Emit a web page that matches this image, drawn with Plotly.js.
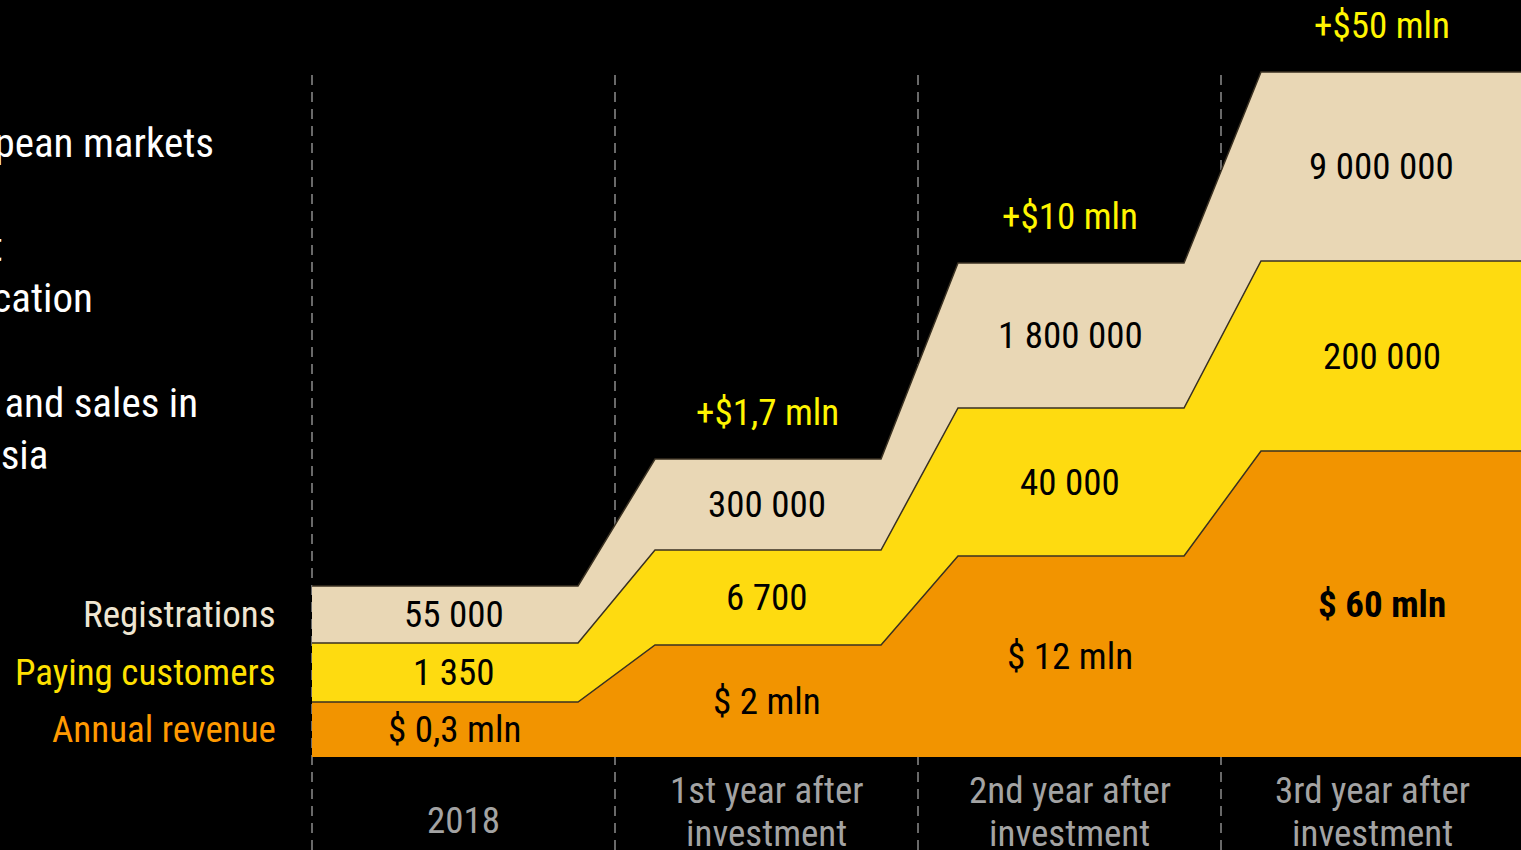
<!DOCTYPE html>
<html>
<head>
<meta charset="utf-8">
<script src="https://cdn.plot.ly/plotly-3.0.1.min.js"></script>
<style>
  html, body { margin: 0; padding: 0; background: #000; }
  #chart { width: 1521px; height: 850px; }
</style>
</head>
<body>
<div id="chart"></div>
<script>
// ---- data ----
const categories = ["2018", "1st year after<br>investment", "2nd year after<br>investment", "3rd year after<br>investment"];
const seriesNames = ["Annual revenue", "Paying customers", "Registrations"];
// visual band thickness of each layer per period
const revenueBand = [55, 112, 201, 306];
const payingBand = [59, 95, 148, 190];
const registrationsBand = [57, 91, 145, 189];
// value labels
const revenueLabels = ["$ 0,3 mln", "$ 2 mln", "$ 12 mln", "<b>$ 60 mln</b>"];
const payingLabels = ["1 350", "6 700", "40 000", "200 000"];
const registrationsLabels = ["55 000", "300 000", "1 800 000", "9 000 000"];
const growthLabels = ["", "+$1,7 mln", "+$10 mln", "+$50 mln"];
const sideNotes = ["European markets", "Launch of the product", "Product certification", "Marketing and sales in", "Asia"];

// ---- layout constants ----
const FONT = "'Roboto Condensed', 'Liberation Sans Narrow', 'Arial Narrow', Roboto, sans-serif";
const FS = 37;
const flatStart = k => (k === 0 ? 0 : k + 0.132);
const flatEnd = k => (k === categories.length - 1 ? 4 : k + 0.878);

const xs = [];
categories.forEach((c, k) => { xs.push(flatStart(k), flatEnd(k)); });
const expand = arr => { const o = []; arr.forEach(v => { o.push(v, v); }); return o; };

const colors = ["#F29400", "#FEDB10", "#E9D7B5"];
const bands = [revenueBand, payingBand, registrationsBand];

const traces = bands.map((b, i) => ({
  x: xs,
  y: expand(b),
  type: "scatter",
  mode: "lines",
  stackgroup: "s",
  name: seriesNames[i],
  line: { color: "#3a3122", width: 1.5, shape: "linear" },
  fillcolor: colors[i],
  hoverinfo: "skip"
}));

const annotations = [];
const shapes = [];

categories.forEach((c, k) => {
  const flatMid = (flatStart(k) + Math.min(flatEnd(k), 3.99)) / 2;
  const cx = (flatMid + (k + 0.5)) / 2;
  let base = 0;
  const lbls = [revenueLabels, payingLabels, registrationsLabels];
  bands.forEach((b, i) => {
    annotations.push({
      x: cx, y: base + b[k] / 2, xref: "x", yref: "y",
      text: lbls[i][k], showarrow: false,
      font: { family: FONT, size: FS, color: "#000" },
      xanchor: "center", yanchor: "middle"
    });
    base += b[k];
  });
  if (growthLabels[k]) {
    annotations.push({
      x: cx, y: base + 47, xref: "x", yref: "y",
      text: growthLabels[k], showarrow: false,
      font: { family: FONT, size: FS, color: "#FFF500" },
      xanchor: "center", yanchor: "middle"
    });
  }
  // category label (one annotation per line for tight line spacing)
  const lines = c.split("<br>");
  lines.forEach((ln, j) => {
    annotations.push({
      x: k + 0.5, y: lines.length > 1 ? -33 - 43 * j : -63, xref: "x", yref: "y",
      text: ln, showarrow: false,
      font: { family: FONT, size: FS, color: "#A3A3A3" },
      xanchor: "center", yanchor: "middle"
    });
  });
  // dashed divider
  shapes.push({
    type: "line", xref: "x", yref: "y", x0: k, x1: k, y0: -93, y1: 685,
    line: { color: "#8c8c8c", width: 1.5, dash: "10px,7px" }, layer: "below"
  });
});

// legend-like labels on the left, aligned to the first period bands
const legendColors = ["#FF9A00", "#FFE000", "#EFE6D2"];
let base0 = 0;
bands.forEach((b, i) => {
  annotations.push({
    x: -0.1122, y: base0 + b[0] / 2, xref: "x", yref: "y",
    text: seriesNames[i], showarrow: false,
    font: { family: FONT, size: FS, color: legendColors[i] },
    xanchor: "right", yanchor: "middle"
  });
  base0 += b[0];
});

// partially visible notes at the far left
const notePos = [[-0.3168, 614], [-1.0132, 510], [-0.7162, 459], [-0.3696, 354], [-0.8647, 302]];
sideNotes.forEach((t, i) => {
  annotations.push({
    x: notePos[i][0], y: notePos[i][1], xref: "x", yref: "y",
    text: t, showarrow: false,
    font: { family: FONT, size: 41, color: "#FFFFFF" },
    xanchor: "right", yanchor: "middle"
  });
});

const layout = {
  width: 1521, height: 850,
  margin: { l: 0, r: 0, t: 0, b: 0 },
  paper_bgcolor: "#000", plot_bgcolor: "#000",
  showlegend: false,
  xaxis: { range: [-1.0297, 3.9901], visible: false, fixedrange: true },
  yaxis: { range: [-93, 757], visible: false, fixedrange: true },
  annotations, shapes,
  hovermode: false
};

Plotly.newPlot("chart", traces, layout, { displayModeBar: false, staticPlot: true });
</script>
</body>
</html>
